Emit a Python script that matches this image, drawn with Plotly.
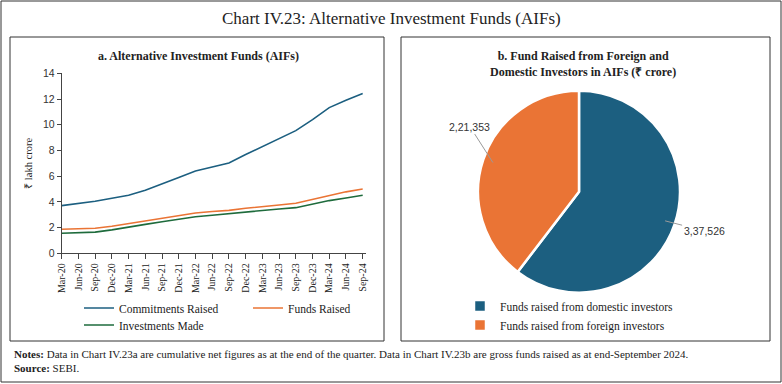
import math
import plotly.graph_objects as go

# ---------------- data ----------------
quarters = ["Mar-20", "Jun-20", "Sep-20", "Dec-20", "Mar-21", "Jun-21", "Sep-21", "Dec-21",
            "Mar-22", "Jun-22", "Sep-22", "Dec-22", "Mar-23", "Jun-23", "Sep-23", "Dec-23",
            "Mar-24", "Jun-24", "Sep-24"]
commitments_raised = [3.71, 3.88, 4.05, 4.28, 4.51, 4.90, 5.37, 5.90, 6.40, 6.70, 7.03, 7.68,
                      8.30, 8.90, 9.54, 10.40, 11.33, 11.90, 12.42]
funds_raised = [1.87, 1.90, 1.95, 2.10, 2.30, 2.50, 2.72, 2.95, 3.14, 3.25, 3.34, 3.50,
                3.65, 3.76, 3.89, 4.20, 4.52, 4.78, 5.00]
investments_made = [1.56, 1.60, 1.65, 1.82, 2.05, 2.25, 2.45, 2.65, 2.84, 2.96, 3.09, 3.20,
                    3.35, 3.45, 3.55, 3.82, 4.10, 4.30, 4.51]

pie_labels = ["Funds raised from domestic investors", "Funds raised from foreign investors"]
pie_values = [337526, 221353]

# ---------------- style ----------------
W, H = 782, 384
BLUE = "#1C5F80"
ORANGE = "#EA7435"
GREEN = "#1E6B3C"
SERIF = "Liberation Serif"
SANS = "Liberation Sans"


def px(x):
    return x / W


def py(y):
    return 1 - y / H


def indian(n):
    s = str(int(n))
    if len(s) <= 3:
        return s
    head, tail = s[:-3], s[-3:]
    parts = []
    while len(head) > 2:
        parts.insert(0, head[-2:])
        head = head[:-2]
    if head:
        parts.insert(0, head)
    return ",".join(parts + [tail])


fig = go.Figure()

fig.add_trace(go.Scatter(x=quarters, y=commitments_raised, mode="lines", name="Commitments Raised",
                         line=dict(color=BLUE, width=1.6), legend="legend"))
fig.add_trace(go.Scatter(x=quarters, y=funds_raised, mode="lines", name="Funds Raised",
                         line=dict(color=ORANGE, width=1.6), legend="legend"))
fig.add_trace(go.Scatter(x=quarters, y=investments_made, mode="lines", name="Investments Made",
                         line=dict(color=GREEN, width=1.6), legend="legend2"))

# pie geometry (pixels)
pcx, pcy, pr = 579, 191.7, 101
fig.add_trace(go.Pie(labels=pie_labels, values=pie_values, sort=False, direction="clockwise",
                     rotation=0, textinfo="none", hoverinfo="label+value", automargin=False,
                     marker=dict(colors=[BLUE, ORANGE], line=dict(color="white", width=2.5)),
                     domain=dict(x=[px(pcx - pr), px(pcx + pr)], y=[py(pcy + pr), py(pcy - pr)]),
                     legend="legend3"))

# pie value labels with leader lines, positioned from slice mid-angles
total = sum(pie_values)
cum = 0
offsets = [(39, 10), (-23, -36)]
for v, (ox, oy) in zip(pie_values, offsets):
    mid = (cum + v / 2) / total * 2 * math.pi
    cum += v
    tx = pcx + 0.9 * pr * math.sin(mid)
    ty = pcy - 0.9 * pr * math.cos(mid)
    fig.add_annotation(x=px(tx), y=py(ty), xref="paper", yref="paper", text=indian(v),
                       showarrow=True, arrowhead=0, arrowwidth=1, arrowcolor="#9a9a9a",
                       ax=ox, ay=oy, xanchor="center", yanchor="middle",
                       font=dict(family=SANS, size=10.5, color="#333"))

fig.update_layout(
    width=W, height=H, margin=dict(l=0, r=0, t=0, b=0, pad=0, autoexpand=False),
    paper_bgcolor="white", plot_bgcolor="white",
    xaxis=dict(domain=[px(61.7), px(365.7)], range=[0, 18.18], anchor="y",
               showgrid=False, showline=True, linecolor="#444", linewidth=1,
               ticks="outside", ticklen=5, tickcolor="#444", tickangle=-90,
               tickfont=dict(family=SERIF, size=10, color="#222"), zeroline=False,
               automargin=False),
    yaxis=dict(domain=[py(253.3), py(73.3)], range=[0, 14], dtick=2, anchor="x",
               showgrid=False, showline=True, linecolor="#444", linewidth=1,
               ticks="outside", ticklen=4, tickcolor="#444", automargin=False,
               tickfont=dict(family=SANS, size=10.5, color="#333"), zeroline=False,
               title=dict(text="₹ lakh crore", font=dict(family=SERIF, size=10.5, color="#222"),
                          standoff=8)),
    showlegend=True,
    legend=dict(orientation="h", x=px(79), xanchor="left", y=py(308), yanchor="middle",
                entrywidth=124, font=dict(family=SERIF, size=11.5, color="#222"),
                bgcolor="rgba(0,0,0,0)"),
    legend2=dict(orientation="h", x=px(79), xanchor="left", y=py(325), yanchor="middle",
                 font=dict(family=SERIF, size=11.5, color="#222"), bgcolor="rgba(0,0,0,0)"),
    legend3=dict(orientation="v", x=px(460), xanchor="left", y=py(315.5), yanchor="middle",
                 font=dict(family=SERIF, size=11.5, color="#222"), bgcolor="rgba(0,0,0,0)"),
)

# titles
fig.add_annotation(x=0.5, y=py(18), xref="paper", yref="paper", showarrow=False,
                   xanchor="center", yanchor="middle",
                   text="Chart IV.23: Alternative Investment Funds (AIFs)",
                   font=dict(family=SERIF, size=17, color="#222"))
fig.add_annotation(x=px(198), y=py(56), xref="paper", yref="paper", showarrow=False,
                   xanchor="center", yanchor="middle",
                   text="<b>a. Alternative Investment Funds (AIFs)</b>",
                   font=dict(family=SERIF, size=12, color="#222"))
fig.add_annotation(x=px(583), y=py(64), xref="paper", yref="paper", showarrow=False,
                   xanchor="center", yanchor="middle",
                   text="<b>b. Fund Raised from Foreign and<br>Domestic Investors in AIFs (₹ crore)</b>",
                   font=dict(family=SERIF, size=12, color="#222"))

# notes
fig.add_annotation(x=px(12), y=py(354), xref="paper", yref="paper", xanchor="left", yanchor="middle",
                   showarrow=False,
                   text="<b>Notes:</b> Data in Chart IV.23a are cumulative net figures as at the end of the quarter. "
                        "Data in Chart IV.23b are gross funds raised as at end-September 2024.",
                   font=dict(family=SERIF, size=11, color="#222"))
fig.add_annotation(x=px(12), y=py(368), xref="paper", yref="paper", xanchor="left", yanchor="middle",
                   showarrow=False, text="<b>Source:</b> SEBI.",
                   font=dict(family=SERIF, size=11, color="#222"))

# frames
frame = dict(type="rect", xref="paper", yref="paper", line=dict(color="#333", width=1),
             fillcolor="rgba(0,0,0,0)", layer="below")
fig.add_shape(x0=px(1), x1=px(781), y0=py(382), y1=py(1), **frame)
fig.add_shape(x0=px(10), x1=px(384), y0=py(341), y1=py(37), **frame)
fig.add_shape(x0=px(401), x1=px(770), y0=py(341), y1=py(37), **frame)

fig.write_html("out.html", config={"displayModeBar": False},
               post_script="document.body.style.margin='0';")
